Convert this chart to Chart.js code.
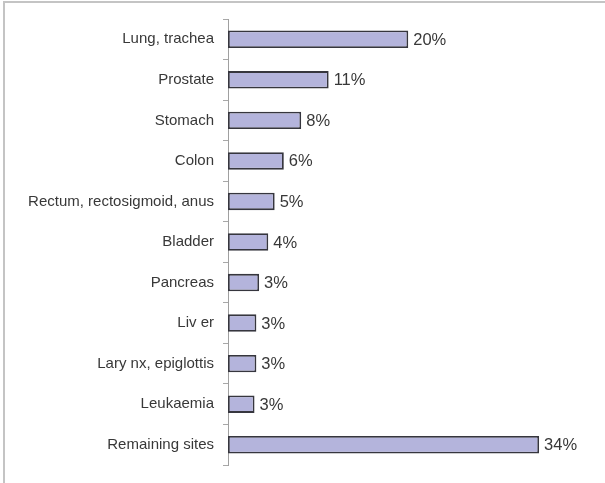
<!DOCTYPE html>
<html>
<head>
<meta charset="utf-8">
<script src="https://cdn.jsdelivr.net/npm/chart.js@4/dist/chart.umd.min.js"></script>
<style>
html,body{margin:0;padding:0;background:#fff;}
#wrap{width:605px;height:483px;position:relative;}
</style>
</head>
<body>
<div id="wrap"><canvas id="c" width="605" height="483"></canvas></div>
<script>
const categories = ["Lung, trachea","Prostate","Stomach","Colon","Rectum, rectosigmoid, anus","Bladder","Pancreas","Liv er","Lary nx, epiglottis","Leukaemia","Remaining sites"];
const shares = [19.7, 11, 8, 6.1, 5.1, 4.4, 3.4, 3.1, 3.1, 2.9, 34];

const frame = {
  id: 'frame',
  beforeDraw(chart){
    const ctx = chart.ctx;
    ctx.save();
    ctx.fillStyle = '#fff';
    ctx.fillRect(0,0,chart.width,chart.height);
    ctx.strokeStyle = '#c4c4c4';
    ctx.lineWidth = 2;
    ctx.beginPath();
    ctx.moveTo(4, chart.height);
    ctx.lineTo(4, 2);
    ctx.lineTo(chart.width, 2);
    ctx.stroke();
    ctx.restore();
  }
};

const valueLabels = {
  id: 'valueLabels',
  afterDatasetsDraw(chart){
    const ctx = chart.ctx;
    const meta = chart.getDatasetMeta(0);
    ctx.save();
    ctx.font = '16.5px "Liberation Sans", Arial, sans-serif';
    ctx.fillStyle = '#383838';
    ctx.textAlign = 'left';
    ctx.textBaseline = 'middle';
    meta.data.forEach((bar, i) => {
      ctx.fillText(Math.round(shares[i]) + '%', bar.x + 5, bar.y + 1);
    });
    ctx.restore();
  }
};

new Chart(document.getElementById('c'), {
  type: 'bar',
  data: {
    labels: categories,
    datasets: [{
      data: shares,
      backgroundColor: '#b4b4dc',
      borderColor: '#36363e',
      borderWidth: 1.8,
      borderSkipped: false,
      barPercentage: 0.86,
      categoryPercentage: 0.5
    }]
  },
  options: {
    indexAxis: 'y',
    responsive: false,
    animation: false,
    devicePixelRatio: 1,
    layout: { padding: { left: 0, right: 11, top: 19, bottom: 15 } },
    plugins: { legend: { display: false }, tooltip: { enabled: false } },
    scales: {
      x: { display: false, min: 0, max: 40 },
      y: {
        afterFit(s){ s.width = 228; },
        border: { display: true, color: '#a0a0a0', width: 1 },
        grid: { drawOnChartArea: false, drawTicks: true, tickLength: 5, color: '#a8a8a8', offset: true },
        ticks: {
          padding: 9,
          color: '#383838',
          font: { family: '"Liberation Sans", Arial, sans-serif', size: 15 }
        }
      }
    }
  },
  plugins: [frame, valueLabels]
});
</script>
</body>
</html>
